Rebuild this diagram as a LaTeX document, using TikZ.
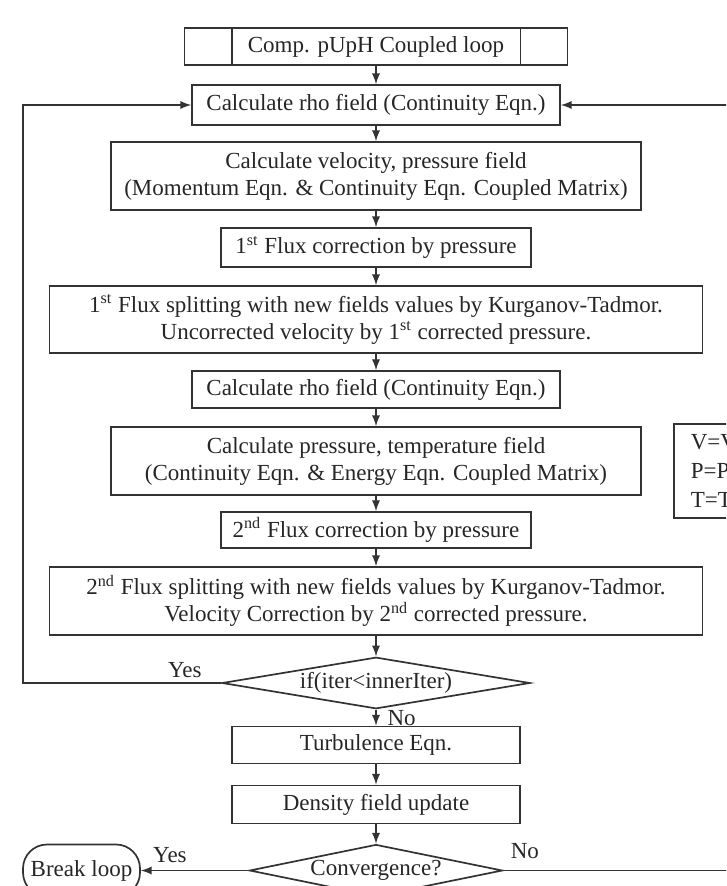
\documentclass[tikz,border=0pt]{standalone}
\usepackage{fontspec}
\setmainfont{Liberation Serif}
\usetikzlibrary{shapes,arrows,positioning,calc}

\begin{document}
\begin{tikzpicture}[node distance=35.5pt,on grid,auto,>=latex,
    font=\fontsize{11.5}{13.5}\selectfont,
    every node/.style={text=black!85},
    proc/.style={draw=black!80, line width=0.85pt, rectangle, align=center, inner sep=0pt, minimum height=19.5pt},
    decide/.style={draw=black!80, line width=0.85pt, diamond, aspect=5, inner sep=0pt},
    flow/.style={->, draw=black!80, line width=0.85pt}]
    \useasboundingbox (0,0) rectangle (363pt,-443pt);
    \clip (0,0) rectangle (363pt,-443pt);

    % main chain
    \node[proc, minimum width=191.5pt, minimum height=18.5pt] (loop) at (188pt,-23.25pt) {Comp. pUpH Coupled loop};
    \draw[line width=0.85pt, draw=black!80] ([xshift=24pt]loop.north west) -- ([xshift=24pt]loop.south west)
        ([xshift=-24pt]loop.north east) -- ([xshift=-24pt]loop.south east);
    \node[proc, minimum width=184pt, minimum height=20pt] (rho1) [below=29.25pt of loop] {Calculate rho field (Continuity Eqn.)};
    \node[proc, minimum width=265pt, minimum height=34pt] (velp) [below=35.5pt of rho1] {Calculate velocity, pressure field\\(Momentum Eqn. \& Continuity Eqn. Coupled Matrix)};
    \node[proc, minimum width=155pt] (flux1) [below=35.75pt of velp] {1\textsuperscript{st} Flux correction by pressure};
    \node[proc, minimum width=326.5pt, minimum height=33.5pt] (split1) [below=36pt of flux1] {1\textsuperscript{st} Flux splitting with new fields values by Kurganov-Tadmor.\\Uncorrected velocity by 1\textsuperscript{st} corrected pressure.};
    \node[proc, minimum width=184pt, minimum height=18.5pt] (rho2) [below=35pt of split1] {Calculate rho field (Continuity Eqn.)};
    \node[proc, minimum width=265pt, minimum height=34pt] (ptemp) [below=35.75pt of rho2] {Calculate pressure, temperature field\\(Continuity Eqn. \& Energy Eqn. Coupled Matrix)};
    \node[proc, minimum width=155pt, minimum height=18pt] (flux2) [below=34.5pt of ptemp] {2\textsuperscript{nd} Flux correction by pressure};
    \node[proc, minimum width=326.5pt, minimum height=34pt] (split2) [below=35.5pt of flux2] {2\textsuperscript{nd} Flux splitting with new fields values by Kurganov-Tadmor.\\Velocity Correction by 2\textsuperscript{nd} corrected pressure.};
    \node[decide, minimum width=154pt, minimum height=25pt] (iter) [below=41pt of split2] {if(iter<innerIter)};
    \node[proc, minimum width=144pt, minimum height=18.5pt] (turb) [below=31pt of iter] {Turbulence Eqn.};
    \node[proc, minimum width=144pt, minimum height=19pt] (dens) [below=29.75pt of turb] {Density field update};
    \node[decide, minimum width=126.5pt, minimum height=26pt] (conv) [below=33pt of dens] {Convergence?};
    \node[proc, rounded corners=12pt, minimum width=58.5pt, minimum height=26pt] (brk) [left=147.25pt of conv] {Break loop};

    % side note
    \node[proc, anchor=north west, align=left, text width=40pt, inner xsep=8.5pt, minimum height=47pt,
        font=\fontsize{11.5}{14.5}\selectfont] (subst) at (336.5pt,-211.5pt) {V=V\\P=P\\T=T};

    \coordinate[left=176.5pt of rho1] (backL);
    \coordinate[right=180pt of rho1] (backR);

    % connectors
    \draw[flow] (loop) -- (rho1);
    \foreach \a/\b in {rho1/velp, velp/flux1, flux1/split1, split1/rho2, rho2/ptemp,
        ptemp/flux2, flux2/split2, split2/iter, turb/dens, dens/conv}
        \draw[flow] (\a) -- (\b);
    \draw[flow] (iter) -- node[right, xshift=2pt] {No} (turb);
    \draw[flow] (iter.west) node[anchor=south east, xshift=-6pt, yshift=-1pt] {Yes} -| (backL) -- (rho1.west);
    \draw[flow] (conv.west) -- node[above, pos=0.73] {Yes} (brk);
    \draw[flow] (conv.east) node[anchor=south west, yshift=2pt] {No} -| (backR) -- (rho1.east);
\end{tikzpicture}
\end{document}
